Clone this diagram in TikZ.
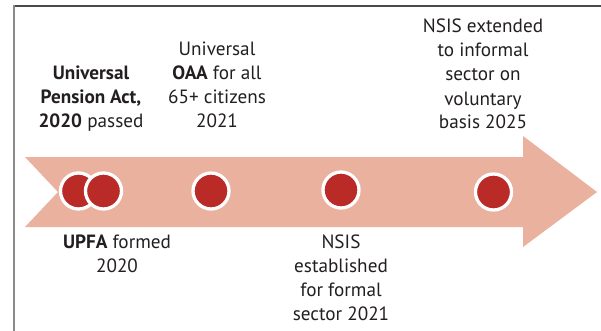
\documentclass[tikz,border=0pt]{standalone}
\usepackage{fontspec}
\setmainfont{PT Sans}
\definecolor{arrowfill}{HTML}{E9B19E}
\definecolor{dotred}{HTML}{BA2A26}
\definecolor{txt}{HTML}{231F20}
\definecolor{framedark}{HTML}{4A4A4A}
\definecolor{framegray}{HTML}{8A8A8A}
\begin{document}
\begin{tikzpicture}[x=1pt,y=-1pt,
  dot/.style={circle,draw=white,line width=3.3pt,fill=dotred,minimum size=36pt,inner sep=0pt},
  lbl/.style={align=center,inner sep=0pt,anchor=base,text=txt,font=\fontsize{19.2}{24}\selectfont}]
\useasboundingbox (0,0) rectangle (601,331);
\fill[white] (0,0) rectangle (601,331);
\fill[framedark] (13,5.5) rectangle (601,7.5);
\fill[framegray] (13,5.5) rectangle (15,331);
\fill[arrowfill] (25,157) -- (523,157) -- (523,136) -- (597,192) -- (523,247) -- (523,227) -- (25,227) -- (58,192) -- cycle;
\node[dot] (d1) at (78.5,191) {};
\node[dot] (d2) at (103.5,191) {};
\node[dot] (d3) at (211,191) {};
\node[dot] (d4) at (341,190) {};
\node[dot] (d5) at (493.5,192) {};
\node[lbl] (t1) at (91,128) {\textbf{Universal}\\\textbf{Pension Act,}\\\textbf{2020} passed};
\node[lbl] (t2) at (217,128) {Universal\\\textbf{OAA} for all\\65+ citizens\\2021};
\node[lbl] (t3) at (483,129) {NSIS extended\\to informal\\sector on\\voluntary\\basis 2025};
\node[lbl] (b1) at (117,272) {\textbf{UPFA} formed\\2020};
\node[lbl] (b2) at (341,320) {NSIS\\established\\for formal\\sector 2021};
\end{tikzpicture}
\end{document}
